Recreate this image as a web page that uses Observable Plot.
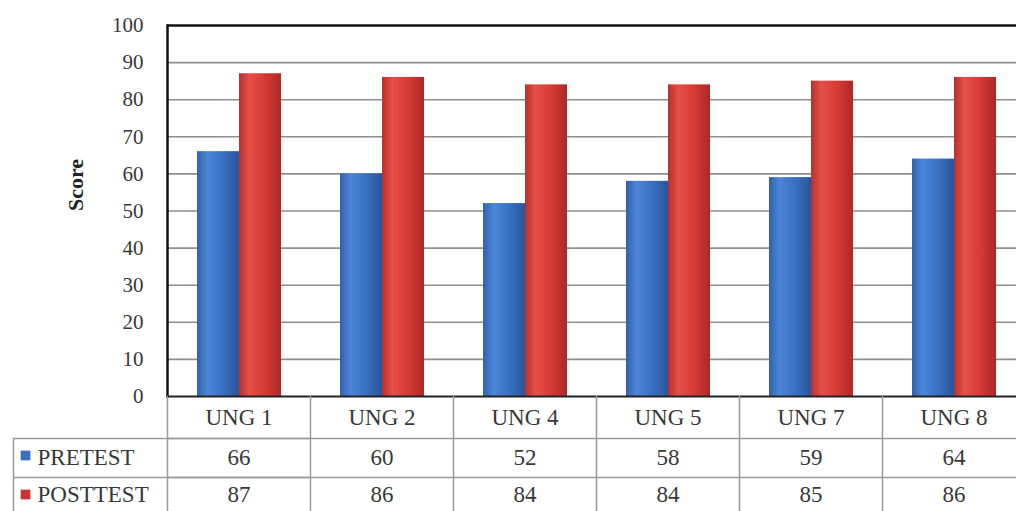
<!DOCTYPE html>
<html>
<head>
<meta charset="utf-8">
<script src="https://cdn.jsdelivr.net/npm/d3@7"></script>
<script src="https://cdn.jsdelivr.net/npm/@observablehq/plot@0.6"></script>
<style>
  html, body { margin: 0; padding: 0; background: #fff; overflow: hidden; }
  #chart svg { max-width: none !important; }
</style>
</head>
<body>
<div id="chart"></div>
<script>
const categories = ["UNG 1", "UNG 2", "UNG 4", "UNG 5", "UNG 7", "UNG 8"];
const seriesNames = ["PRETEST", "POSTTEST"];
const pretest = [66, 60, 52, 58, 59, 64];
const posttest = [87, 86, 84, 84, 85, 86];
const yTicks = [0, 10, 20, 30, 40, 50, 60, 70, 80, 90, 100];
const yLabel = "Score";

const data = categories.flatMap((c, i) => [
  {cat: c, series: "PRETEST", value: pretest[i]},
  {cat: c, series: "POSTTEST", value: posttest[i]}
]);
const preData = data.filter(d => d.series === "PRETEST");
const postData = data.filter(d => d.series === "POSTTEST");

const W = 1027, H = 511, MT = 25, MB = 115, ML = 164;
const FH = H - MT - MB;
const first = categories[0];
const gridColor = "#8e8e8e";
const tableColor = "#9a9a9a";
const textColor = "#383838";

function defs() {
  const g = d3.create("svg:g");
  const d = g.append("defs");
  const mk = (id, stops) => {
    const lg = d.append("linearGradient").attr("id", id).attr("x1", "0").attr("x2", "1").attr("y1", "0").attr("y2", "0");
    stops.forEach(([o, c]) => lg.append("stop").attr("offset", o).attr("stop-color", c));
  };
  mk("gBlue", [[0, "#2f62ad"], [0.25, "#4c86d8"], [0.55, "#3c75c8"], [1, "#2a559a"]]);
  mk("gRed", [[0, "#b9302c"], [0.25, "#e5504a"], [0.6, "#d93a35"], [1, "#a92a27"]]);
  return g.node();
}

const chart = Plot.plot({
  width: W,
  height: H,
  marginTop: MT,
  marginBottom: MB,
  marginLeft: ML,
  marginRight: 0,
  style: {fontFamily: "'Liberation Serif', 'Times New Roman', serif", fontSize: "21px", color: textColor, background: "#fff", maxWidth: "none"},
  fx: {domain: categories, padding: 0, axis: null},
  x: {domain: seriesNames, paddingInner: 0, paddingOuter: 0.7, axis: null},
  y: {domain: [0, 100], axis: null},
  marks: [
    defs,
    Plot.ruleY(yTicks.filter(t => t > 0 && t < 100), {stroke: gridColor, strokeWidth: 1.6}),
    Plot.barY(preData, {fx: "cat", x: "series", y: "value", fill: "url(#gBlue)"}),
    Plot.barY(postData, {fx: "cat", x: "series", y: "value", fill: "url(#gRed)"}),
    Plot.ruleY([100], {stroke: "#111", strokeWidth: 2.5}),
    Plot.ruleY([0], {stroke: "#222", strokeWidth: 2}),
    Plot.frame({anchor: "left", fx: first, stroke: "#111", strokeWidth: 2.5}),
    Plot.axisY({ticks: yTicks, tickSize: 0, tickPadding: 24, label: null, fill: textColor, fontSize: 21}),
    Plot.text([yLabel], {fx: () => first, text: d => d, frameAnchor: "left", rotate: -90, dx: -92, fontWeight: "bold", fontSize: 22, fill: "#222"}),
    // table grid
    Plot.frame({anchor: "left", insetTop: FH, insetBottom: -MB, stroke: tableColor, strokeWidth: 1.5}),
    Plot.ruleY([0], {dy: 42, stroke: tableColor, strokeWidth: 1.5}),
    Plot.ruleY([0], {dy: 81, stroke: tableColor, strokeWidth: 1.5}),
    Plot.ruleY([{cat: first, y: 0}], {fx: "cat", y: "y", dy: 42, insetLeft: -154, stroke: tableColor, strokeWidth: 1.5}),
    Plot.ruleY([{cat: first, y: 0}], {fx: "cat", y: "y", dy: 81, insetLeft: -154, stroke: tableColor, strokeWidth: 1.5}),
    Plot.frame({anchor: "left", fx: first, insetLeft: -154, insetTop: FH + 42, insetBottom: -MB, stroke: tableColor, strokeWidth: 1.5}),
    // table text
    Plot.text(categories, {fx: d => d, text: d => d, frameAnchor: "bottom", dy: 28, fill: textColor, fontSize: 23}),
    Plot.text(preData, {fx: "cat", text: "value", frameAnchor: "bottom", dy: 68, fill: textColor, fontSize: 23}),
    Plot.text(postData, {fx: "cat", text: "value", frameAnchor: "bottom", dy: 105, fill: textColor, fontSize: 23}),
    Plot.text([{cat: first, s: seriesNames[0]}], {fx: "cat", text: "s", frameAnchor: "bottom-left", textAnchor: "start", dx: -130, dy: 68, fill: textColor, fontSize: 23}),
    Plot.text([{cat: first, s: seriesNames[1]}], {fx: "cat", text: "s", frameAnchor: "bottom-left", textAnchor: "start", dx: -130, dy: 105, fill: textColor, fontSize: 23}),
    Plot.dot([{cat: first}], {fx: "cat", frameAnchor: "bottom-left", dx: -142, dy: 59, symbol: "square", r: 5.5, fill: "#3a70c0"}),
    Plot.dot([{cat: first}], {fx: "cat", frameAnchor: "bottom-left", dx: -142, dy: 98, symbol: "square", r: 5.5, fill: "#c93532"})
  ]
});
document.getElementById("chart").append(chart);
</script>
</body>
</html>
